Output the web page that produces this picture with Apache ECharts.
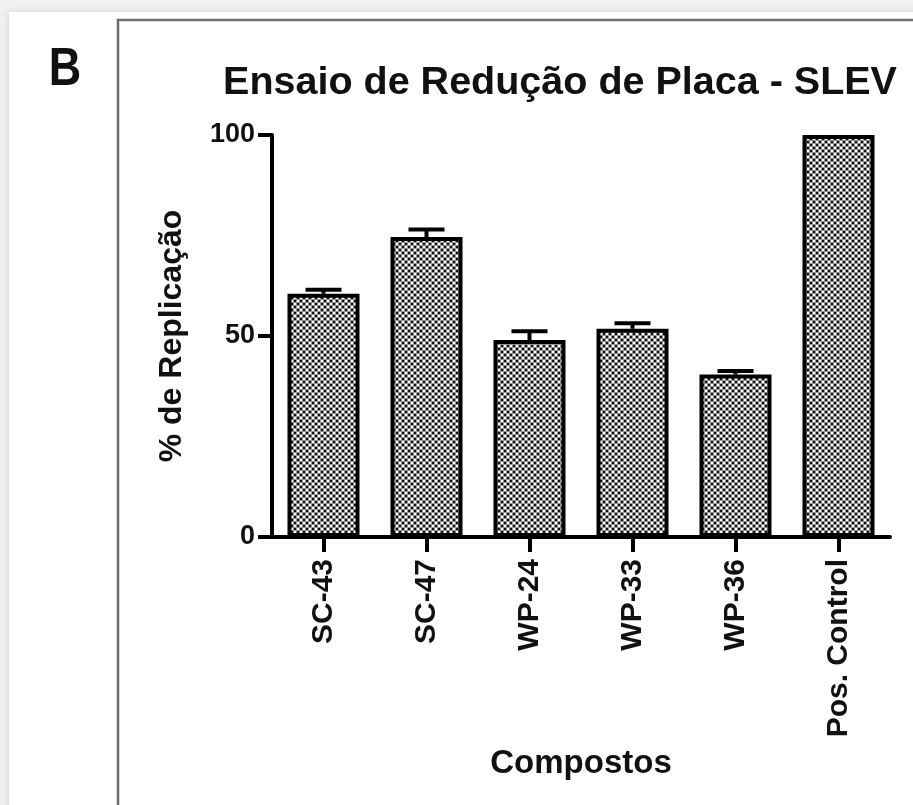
<!DOCTYPE html>
<html>
<head>
<meta charset="utf-8">
<script src="https://cdn.jsdelivr.net/npm/echarts@6/dist/echarts.min.js"></script>
<style>
  html, body { margin: 0; padding: 0; background: #f1f1f1; }
  #chart { width: 913px; height: 805px; }
</style>
</head>
<body>
<div id="chart"></div>
<script>
// Plaque reduction assay (SLEV): % replication per compound, mean + SEM
const categories = ['SC-43', 'SC-47', 'WP-24', 'WP-33', 'WP-36', 'Pos. Control'];
const replication = [60.5, 74.6, 49.0, 51.8, 40.4, 100];
const sem = [1.0, 1.9, 2.2, 1.4, 0.9, 0];
const yTicks = [0, 50, 100];

const FONT = '"Liberation Sans", Arial, sans-serif';

// Halftone-style fill used by the bars
function halftone() {
  const c = document.createElement('canvas');
  c.width = 6; c.height = 6;
  const g = c.getContext('2d');
  g.fillStyle = '#949494';
  g.fillRect(0, 0, 6, 6);
  g.fillStyle = '#111';
  g.fillRect(0, 0, 2, 2);
  g.fillRect(3, 3, 2, 2);
  g.fillStyle = '#fff';
  g.fillRect(3, 0, 2, 2);
  g.fillRect(0, 3, 2, 2);
  return c;
}

const chart = echarts.init(document.getElementById('chart'), null, { renderer: 'canvas' });

const errData = categories.map((c, i) => [i, replication[i], sem[i]]);

chart.setOption({
  animation: false,
  backgroundColor: '#f1f1f1',
  graphic: [
    {
      type: 'rect', z: -10,
      shape: { x: 9, y: 12, width: 920, height: 820 },
      style: { fill: '#ffffff', shadowBlur: 8, shadowColor: 'rgba(0,0,0,0.12)' }
    },
    {
      type: 'rect', z: -9,
      shape: { x: 118, y: 20, width: 900, height: 900 },
      style: { fill: 'none', stroke: '#6e6e6e', lineWidth: 2.5 }
    },
    {
      type: 'text', z: 5,
      x: 65, y: 70, scaleY: 1.2,
      style: {
        text: 'B', font: 'bold 45px ' + FONT, fill: '#111',
        textAlign: 'center', textVerticalAlign: 'middle'
      }
    }
  ],
  title: {
    text: 'Ensaio de Redução de Placa - SLEV',
    left: 555, top: 58, textAlign: 'center',
    textStyle: { fontFamily: FONT, fontWeight: 'bold', fontSize: 39.5, color: '#111' }
  },
  grid: { left: 272, right: 23, top: 135, bottom: 268, containLabel: false },
  xAxis: {
    type: 'category',
    data: categories,
    name: 'Compostos',
    nameLocation: 'middle',
    nameGap: 210,
    nameTextStyle: { fontFamily: FONT, fontWeight: 'bold', fontSize: 33, color: '#111' },
    axisLine: { show: true, lineStyle: { color: '#000', width: 4 } },
    axisTick: { show: true, alignWithLabel: true, interval: 0, length: 15, lineStyle: { color: '#000', width: 4 } },
    axisLabel: {
      rotate: 90, margin: 22, interval: 0,
      fontFamily: FONT, fontWeight: 'bold', fontSize: 30, color: '#111'
    },
    splitLine: { show: false }
  },
  yAxis: {
    type: 'value',
    min: 0, max: 100, interval: 50,
    name: '% de Replicação',
    nameLocation: 'middle',
    nameGap: 84,
    nameRotate: 90,
    nameTextStyle: { fontFamily: FONT, fontWeight: 'bold', fontSize: 32, color: '#111' },
    axisLine: { show: true, lineStyle: { color: '#000', width: 4 } },
    axisTick: { show: true, length: 14, lineStyle: { color: '#000', width: 4 } },
    axisLabel: {
      margin: 17, fontFamily: FONT, fontWeight: 'bold', fontSize: 27, color: '#111',
      formatter: v => (yTicks.indexOf(v) >= 0 ? String(v) : '')
    },
    splitLine: { show: false }
  },
  series: [
    {
      type: 'bar',
      data: replication,
      barWidth: 72,
      itemStyle: {
        color: { image: halftone(), repeat: 'repeat' },
        borderColor: '#000',
        borderWidth: 4
      },
      z: 2
    },
    {
      type: 'custom',
      data: errData,
      z: 3,
      renderItem: function (params, api) {
        const i = api.value(0);
        const m = api.value(1);
        const e = api.value(2);
        if (!e) return null;
        const base = api.coord([i, m]);
        const top = api.coord([i, m + e]);
        const half = 18;
        return {
          type: 'group',
          children: [
            { type: 'line', shape: { x1: base[0], y1: base[1], x2: top[0], y2: top[1] },
              style: { stroke: '#000', lineWidth: 4 } },
            { type: 'line', shape: { x1: top[0] - half, y1: top[1], x2: top[0] + half, y2: top[1] },
              style: { stroke: '#000', lineWidth: 4 } }
          ]
        };
      }
    }
  ]
});
</script>
</body>
</html>
